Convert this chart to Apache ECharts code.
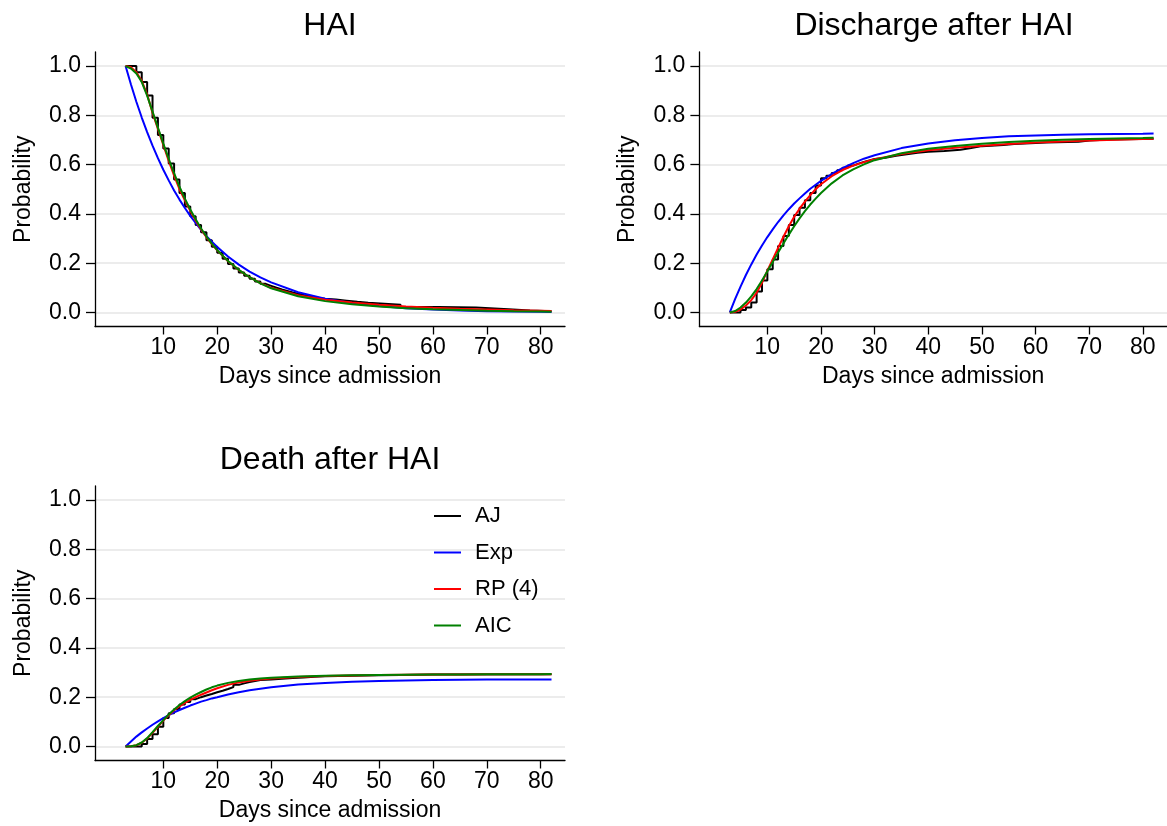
<!DOCTYPE html>
<html><head><meta charset="utf-8">
<script src="https://cdn.jsdelivr.net/npm/echarts@6/dist/echarts.min.js"></script>
<style>html,body{margin:0;padding:0;background:#fff}#c{width:1167px;height:826px}</style>
</head><body><div id="c"></div><script>
// ---- data ----
const panelTitles = ['HAI', 'Discharge after HAI', 'Death after HAI'];
const seriesNames = ['AJ', 'Exp', 'RP (4)', 'AIC'];
const xTicks = [10, 20, 30, 40, 50, 60, 70, 80];
const yTicks = [0, 0.2, 0.4, 0.6, 0.8, 1.0];

// time grid for fitted curves (days since admission)
const tFit = [3,4,5,6,7,8,9,10,11,12,13,14,15,16,17,18,19,20,22,24,26,28,30,35,40,45,50,55,60,65,70,75,80,82];

// HAI (state occupancy)
const haiExp = [1,0.925,0.855,0.791,0.732,0.677,0.626,0.579,0.536,0.495,0.458,0.424,0.392,0.363,0.335,0.31,0.287,0.266,0.227,0.194,0.166,0.142,0.122,0.082,0.056,0.038,0.026,0.017,0.012,0.008,0.005,0.004,0.0025,0.002];
const haiRP = [1,0.995,0.975,0.94,0.885,0.81,0.745,0.68,0.615,0.555,0.5,0.455,0.413,0.373,0.337,0.305,0.277,0.252,0.208,0.172,0.143,0.119,0.1,0.07,0.052,0.04,0.031,0.024,0.019,0.015,0.012,0.009,0.007,0.006];
const haiAIC = [1,0.99,0.97,0.935,0.88,0.815,0.75,0.685,0.623,0.565,0.51,0.462,0.418,0.378,0.341,0.308,0.279,0.253,0.209,0.173,0.143,0.118,0.098,0.066,0.046,0.033,0.024,0.017,0.013,0.01,0.007,0.005,0.004,0.003];
const haiAJt = [3,5,6,7,8,9,10,11,12,13,14,15,16,17,18,19,20,21,22,23,24,25,26,27,28,29,30,31,32,33,34,35,36,37,38,39,40,42,44,46,48,54,61,68,74,78,82];
const haiAJ = [1,0.975,0.935,0.88,0.79,0.72,0.665,0.605,0.54,0.485,0.43,0.39,0.355,0.325,0.293,0.267,0.242,0.218,0.197,0.178,0.162,0.149,0.137,0.126,0.116,0.108,0.1,0.093,0.087,0.081,0.076,0.071,0.066,0.062,0.059,0.056,0.053,0.048,0.043,0.039,0.031,0.022,0.02,0.013,0.008,0.005,0.005];

// Discharge after HAI
const disExp = [0,0.055,0.105,0.152,0.195,0.235,0.272,0.306,0.337,0.367,0.394,0.419,0.442,0.463,0.483,0.502,0.518,0.534,0.562,0.586,0.606,0.624,0.638,0.667,0.686,0.699,0.708,0.715,0.718,0.721,0.723,0.724,0.725,0.726];
const disRP = [0,0.003,0.012,0.028,0.05,0.08,0.12,0.17,0.215,0.262,0.307,0.35,0.388,0.421,0.45,0.476,0.5,0.52,0.553,0.578,0.596,0.61,0.622,0.643,0.658,0.668,0.677,0.684,0.69,0.694,0.698,0.701,0.704,0.705];
const disAIC = [0,0.006,0.02,0.04,0.065,0.095,0.13,0.167,0.205,0.243,0.28,0.316,0.35,0.382,0.411,0.438,0.462,0.485,0.524,0.556,0.581,0.601,0.618,0.646,0.664,0.676,0.685,0.692,0.697,0.701,0.704,0.706,0.708,0.709];
const disAJt = [3,5,6,7,8,9,10,11,12,13,14,15,16,17,18,19,20,21,22,23,24,25,26,27,28,29,30,32,34,36,38,40,43,46,48,50,54,56,62,68,70,74,82];
const disAJ = [0,0.01,0.02,0.04,0.085,0.13,0.175,0.215,0.27,0.31,0.355,0.395,0.425,0.455,0.485,0.515,0.545,0.555,0.566,0.577,0.587,0.596,0.604,0.611,0.617,0.623,0.628,0.636,0.642,0.648,0.652,0.655,0.66,0.667,0.675,0.68,0.684,0.69,0.693,0.698,0.702,0.705,0.705];

// Death after HAI
const deaExp = [0,0.02,0.04,0.057,0.073,0.088,0.102,0.115,0.127,0.138,0.148,0.157,0.166,0.174,0.182,0.188,0.195,0.2,0.211,0.22,0.228,0.234,0.24,0.251,0.258,0.263,0.266,0.268,0.27,0.271,0.272,0.272,0.272,0.272];
const deaRP = [0,0.001,0.005,0.015,0.032,0.055,0.08,0.105,0.127,0.147,0.163,0.177,0.189,0.2,0.21,0.219,0.228,0.236,0.25,0.26,0.267,0.272,0.276,0.282,0.286,0.288,0.29,0.291,0.292,0.292,0.293,0.293,0.293,0.293];
const deaAIC = [0,0.001,0.005,0.016,0.034,0.058,0.083,0.107,0.13,0.15,0.168,0.184,0.198,0.21,0.221,0.231,0.24,0.247,0.258,0.266,0.272,0.276,0.279,0.284,0.287,0.289,0.29,0.291,0.292,0.292,0.293,0.293,0.293,0.294];
const deaAJt = [3,6,7,8,9,10,11,12,13,14,15,16,17,18,19,20,21,22,23,24,25,26,27,28,30,32,34,36,38,40,45,50,54,60,82];
const deaAJ = [0,0.01,0.03,0.05,0.08,0.115,0.135,0.152,0.17,0.18,0.192,0.2,0.207,0.213,0.22,0.226,0.233,0.241,0.25,0.256,0.261,0.266,0.27,0.272,0.275,0.278,0.28,0.283,0.285,0.287,0.289,0.29,0.292,0.293,0.293];

// ---- chart ----
const FONT = "'Liberation Sans', Arial, Helvetica, sans-serif";
const colors = {'AJ': '#000000', 'Exp': '#0000ff', 'RP (4)': '#ff0000', 'AIC': '#008000'};
const panels = [
  {aj: [haiAJt, haiAJ], exp: haiExp, rp: haiRP, aic: haiAIC},
  {aj: [disAJt, disAJ], exp: disExp, rp: disRP, aic: disAIC},
  {aj: [deaAJt, deaAJ], exp: deaExp, rp: deaRP, aic: deaAIC}
];
const gridPos = [
  {left: 95, top: 52, width: 470, height: 274.5},
  {left: 699.4, top: 52, width: 470, height: 274.5},
  {left: 95, top: 486, width: 470, height: 274.5}
];
const titleCenters = [[330, 10], [934, 10], [330, 444.5]];

const pairs = (xs, ys) => xs.map((x, i) => [x, ys[i]]);
const axisLine = {show: true, onZero: false, lineStyle: {color: '#000', width: 1.3}};
const lblStyle = {fontFamily: FONT, fontSize: 23, color: '#000'};

const xAxes = [], yAxes = [], series = [], graphics = [];
gridPos.forEach((g, i) => {
  xAxes.push({
    type: 'value', gridIndex: i, min: -2.67, max: 84.5,
    axisLine: axisLine,
    axisTick: {show: true, length: 8, customValues: xTicks, lineStyle: {color: '#000', width: 1.3}},
    axisLabel: Object.assign({customValues: xTicks, margin: 10}, lblStyle),
    splitLine: {show: false},
    name: 'Days since admission', nameLocation: 'middle', nameGap: 39,
    nameTextStyle: lblStyle
  });
  yAxes.push({
    type: 'value', gridIndex: i, min: -0.057, max: 1.057,
    axisLine: axisLine,
    axisTick: {show: true, length: 9, customValues: yTicks, lineStyle: {color: '#000', width: 1.3}},
    axisLabel: Object.assign({customValues: yTicks, margin: 14, formatter: v => v.toFixed(1)}, lblStyle),
    splitLine: {show: true, lineStyle: {color: '#e6e6e6', width: 1.5}},
    name: 'Probability', nameLocation: 'middle', nameGap: 60,
    nameTextStyle: lblStyle
  });
  const p = panels[i];
  const common = {type: 'line', xAxisIndex: i, yAxisIndex: i, symbol: 'none', silent: true, animation: false};
  series.push(Object.assign({}, common, {name: 'AJ', step: 'end', data: pairs(p.aj[0], p.aj[1]),
    lineStyle: {color: colors['AJ'], width: 2}, itemStyle: {color: colors['AJ']}}));
  series.push(Object.assign({}, common, {name: 'Exp', data: pairs(tFit, p.exp),
    lineStyle: {color: colors['Exp'], width: 2}, itemStyle: {color: colors['Exp']}}));
  series.push(Object.assign({}, common, {name: 'RP (4)', data: pairs(tFit, p.rp),
    lineStyle: {color: colors['RP (4)'], width: 2}, itemStyle: {color: colors['RP (4)']}}));
  series.push(Object.assign({}, common, {name: 'AIC', data: pairs(tFit, p.aic),
    lineStyle: {color: colors['AIC'], width: 2}, itemStyle: {color: colors['AIC']}}));
  graphics.push({
    type: 'text', x: titleCenters[i][0], y: titleCenters[i][1],
    style: {text: panelTitles[i], fontFamily: FONT, fontSize: 32, fill: '#000', textAlign: 'center', textVerticalAlign: 'top'}
  });
});

const chart = echarts.init(document.getElementById('c'), null, {renderer: 'canvas'});
chart.setOption({
  animation: false,
  backgroundColor: '#fff',
  grid: gridPos,
  xAxis: xAxes,
  yAxis: yAxes,
  series: series,
  graphic: graphics,
  legend: {
    data: seriesNames, orient: 'vertical', left: 429, top: 499,
    itemWidth: 27, itemHeight: 2, itemGap: 12.5,
    icon: 'rect',
    selectedMode: false,
    textStyle: {fontFamily: FONT, fontSize: 22, color: '#000', lineHeight: 24, padding: [0, 0, 0, 9]}
  }
});
</script></body></html>
